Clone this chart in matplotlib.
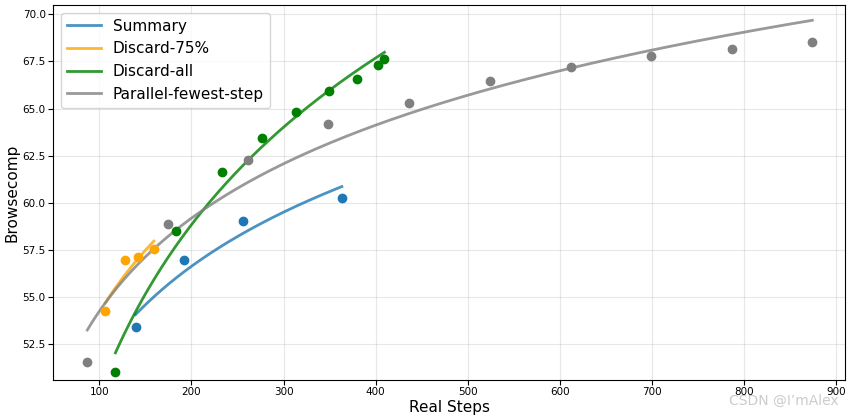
import numpy as np
import matplotlib
matplotlib.use("Agg")
import matplotlib.pyplot as plt

sum_x = [139.2, 191.7, 255.6, 363.3]
sum_y = [53.40, 56.96, 59.01, 60.24]
d75_x = [106.5, 128.3, 142.0, 159.1]
d75_y = [54.27, 56.96, 57.10, 57.57]
dall_x = [117.4, 182.7, 233.4, 276.3, 313.9, 349.0, 379.9, 402.8, 409.5]
dall_y = [50.99, 58.48, 61.61, 63.46, 64.80, 65.92, 66.58, 67.32, 67.65]
par_x = [86.9, 174.0, 261.0, 348.1, 436.6, 524.4, 611.9, 699.3, 786.7, 874.2]
par_y = [51.52, 58.88, 62.25, 64.19, 65.31, 66.47, 67.21, 67.80, 68.15, 68.53]

series = [
    ("Summary", sum_x, sum_y, "#1f77b4"),
    ("Discard-75%", d75_x, d75_y, "orange"),
    ("Discard-all", dall_x, dall_y, "green"),
    ("Parallel-fewest-step", par_x, par_y, "grey"),
]

fig, ax = plt.subplots(figsize=(8.47, 4.16), dpi=100)
fig.subplots_adjust(left=0.063, right=0.998, top=0.988, bottom=0.087)
for name, xs, ys, c in series:
    xs = np.array(xs); ys = np.array(ys)
    b, a = np.polyfit(np.log(xs), ys, 1)
    xx = np.linspace(xs.min(), xs.max(), 200)
    ax.plot(xx, a + b * np.log(xx), color=c, lw=2, alpha=0.8, label=name)
    ax.scatter(xs, ys, color=c, s=36, zorder=3)

ax.set_xlim(50, 910)
ax.set_ylim(50.6, 70.5)
ax.set_xticks(range(100, 901, 100))
ax.set_yticks(np.arange(52.5, 70.01, 2.5))
ax.grid(True, alpha=0.3)
ax.set_xlabel("Real Steps", fontsize=11, labelpad=2)
ax.set_ylabel("Browsecomp", fontsize=11, labelpad=2)
ax.tick_params(labelsize=7.5, pad=2)
ax.legend(loc="upper left", fontsize=11, handlelength=2.2)
fig.text(0.99, 0.02, "CSDN @I’mAlex", ha="right", va="bottom", color="#cccccc", fontsize=10)
fig.savefig("out.png", dpi=100)
